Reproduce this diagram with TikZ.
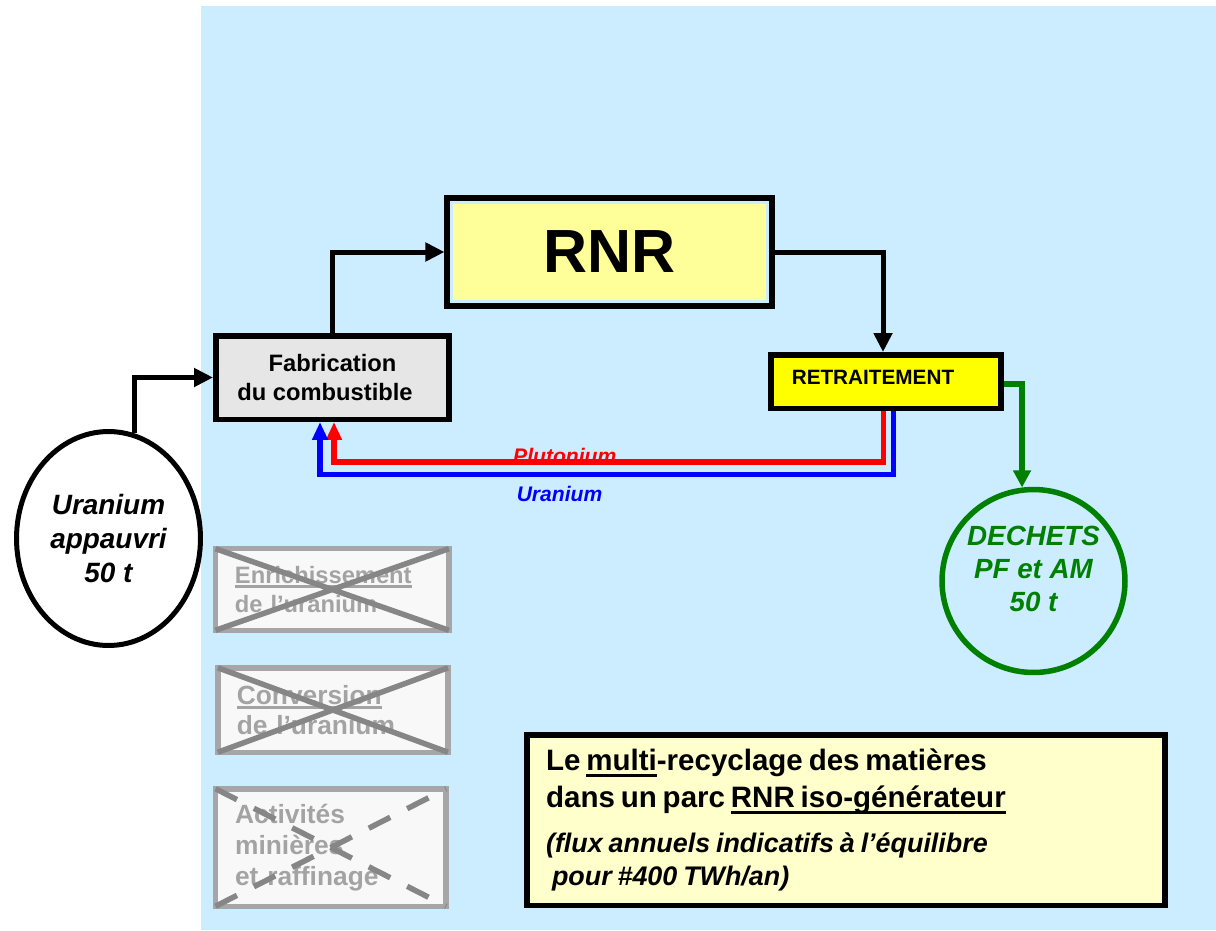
\documentclass[tikz,border=0pt]{standalone}
\usepackage{fontspec}
\setmainfont{Liberation Sans}
\usetikzlibrary{arrows.meta,calc,shapes.geometric}

\definecolor{skyback}{RGB}{204,236,255}
\definecolor{rnryellow}{RGB}{255,255,153}
\definecolor{retyellow}{RGB}{255,255,0}
\definecolor{notecream}{RGB}{255,255,204}
\definecolor{fabgray}{RGB}{230,230,230}
\definecolor{offwhite}{RGB}{248,248,248}
\definecolor{frameg}{RGB}{166,166,166}
\definecolor{crossg}{RGB}{134,134,134}
\definecolor{textg}{RGB}{163,163,163}
\definecolor{wastegreen}{RGB}{0,128,0}
\definecolor{pured}{RGB}{255,0,0}
\definecolor{ublue}{RGB}{0,0,255}

\newcommand\setfs[2]{\fontsize{#1pt}{#2pt}\selectfont}
% underline with a chosen drop below the baseline
\newcommand\ulx[3][-3.6pt]{\setbox0\hbox{#3}\rlap{\rule[#1]{\wd0}{#2}}\box0}

\begin{document}
\begin{tikzpicture}[x=0.02cm, y=-0.02cm,
  box/.style={draw=black, line width=0.11cm, inner sep=0pt},
  xbox/.style={draw=frameg, fill=offwhite, line width=0.11cm, inner ysep=0pt,
    outer sep=0pt, align=left, text=textg},
  xcross/.style={draw=crossg, line width=0.11cm},
  flow/.style={line width=0.1cm, -{Triangle[length=0.38cm,width=0.36cm]}},
  puflow/.style={draw=pured, line width=0.11cm, -{Triangle[length=0.36cm,width=0.3cm]}},
  uflow/.style={draw=ublue, line width=0.11cm, -{Triangle[length=0.36cm,width=0.3cm]}},
  wasteflow/.style={draw=wastegreen, line width=0.11cm, -{Triangle[length=0.34cm,width=0.34cm]}}]

\useasboundingbox (0,0) rectangle (1216,930);
\fill[skyback] (201,6) rectangle (1216,930);

% main boxes
\node[box, fill=rnryellow, minimum width=6.5cm, minimum height=2.164cm,
  font=\bfseries\setfs{34.7}{40}] (rnr) at (609.7,252) {RNR};
\draw[skyback, line width=0.07cm] ($(rnr.north west)+(7.2,7.2)$) rectangle ($(rnr.south east)+(-7.2,-7.2)$);

\node[box, fill=fabgray, minimum width=4.67cm, minimum height=1.67cm, align=center,
  font=\bfseries\setfs{13.5}{17}] (fab) at (332.5,377.5) {Fabrication\\du combustible\hspace*{0.3cm}};

\node[box, fill=retyellow, text width=3.77cm, inner xsep=0.42cm, inner ysep=0pt,
  minimum height=1.07cm, align=left, text depth=0.18cm,
  font=\bfseries\setfs{11.8}{14}] (ret) at (886,381.5) {RETRAITEMENT};

\node[draw=black, line width=0.1cm, fill=white, ellipse, minimum width=3.68cm,
  minimum height=4.28cm, inner sep=0pt, align=center,
  font=\bfseries\itshape\setfs{15.9}{19.6}] (u) at (108.5,538.5) {Uranium\\appauvri\\50 t};

\node[draw=wastegreen, text=wastegreen, line width=0.11cm, circle, minimum size=3.66cm,
  inner sep=0pt, align=center, text depth=0.49cm,
  font=\bfseries\itshape\setfs{15.8}{19}] (dech) at (1033.5,581) {DECHETS\\PF et AM\\50 t};

% flow labels (the plutonium line runs over its label)
\node[text=pured, anchor=base, inner sep=0pt, font=\bfseries\itshape\setfs{12}{14}] (plabel) at (564.75,463) {Plutonium};
\node[text=ublue, inner sep=0pt, font=\bfseries\itshape\setfs{12}{14}] (ulabel) at (559.5,493.5) {Uranium};

% connectors
\draw[flow] (fab.north) |- (rnr.west);
\draw[flow] (rnr.east) -| ($(ret.north)+(-3,0)$);
\draw[flow] (u.76.4) |- (fab.west);
\draw[wasteflow] ($(ret.east)+(0,2.5)$) -| (dech.97.2);

\coordinate (pubend) at (334,462);
\coordinate (ubend) at (320,474.5);
\draw[puflow] ($(ret.south)+(-2.5,0)$) |- (pubend) -- (pubend |- fab.south);
\draw[uflow] ($(ret.south)+(7.5,0)$) |- (ubend) -- (ubend |- fab.south);

% steps no longer needed
\node[xbox, text width=3.89cm, inner xsep=0.39cm, minimum height=1.632cm,
  font=\bfseries\setfs{13.5}{16.5}] (enr) at (332.2,589.5)
  {\ulx[-2.3pt]{1.7pt}{Enrichissement}\\de l’uranium};
\draw[xcross] (enr.north west) -- (enr.south east) (enr.south west) -- (enr.north east);

\node[xbox, text width=3.845cm, inner xsep=0.38cm, minimum height=1.69cm,
  font=\bfseries\setfs{15}{17}] (conv) at (332.9,710)
  {\ulx[-2.3pt]{1.7pt}{Conversion}\\de l’uranium};
\draw[xcross] (conv.north west) -- (conv.south east) (conv.south west) -- (conv.north east);

\node[xbox, text width=3.834cm, inner xsep=0.39cm, minimum height=2.35cm,
  font=\bfseries\setfs{15}{17.6}] (mine) at (330.9,847.5)
  {Activités\\minières\\et raffinage};
\draw[xcross, dash pattern=on 0.48cm off 0.38cm] (mine.north west) -- (mine.south east)
  (mine.south west) -- (mine.north east);

% caption box
\node[box, fill=notecream, text width=12cm, inner xsep=0.385cm, inner ysep=0pt,
  minimum height=3.41cm, align=left] (note) at (846,820)
  {{\bfseries\setfs{16.8}{21}Le \ulx{1.8pt}{multi}-recyclage des matières\\
   dans un parc \ulx{1.8pt}{RNR iso-générateur}\par}
   \vspace{7pt}
   {\bfseries\itshape\setfs{15.3}{18.5}(flux annuels indicatifs à l’équilibre\\
   \hspace*{3.4pt}pour \#400 TWh/an)\par}};

\end{tikzpicture}
\end{document}
